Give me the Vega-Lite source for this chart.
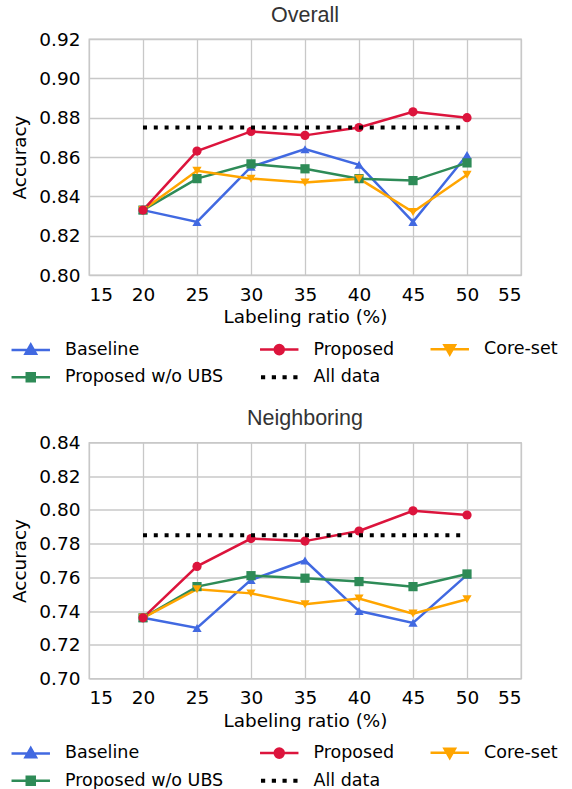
{
  "$schema": "https://vega.github.io/schema/vega-lite/v6.json",
  "padding": {"left": 10, "top": 3, "right": 5, "bottom": 0},
  "background": "white",
  "config": {
    "font": "DejaVu Sans",
    "view": {"stroke": "#c8c8c8", "strokeWidth": 1.3},
    "axis": {
      "grid": true, "gridColor": "#c8c8c8", "gridWidth": 1.3, "domain": false, "ticks": false,
      "labelFont": "DejaVu Sans", "labelFontSize": 18.5, "labelColor": "#000",
      "titleFont": "DejaVu Sans", "titleFontSize": 18.4, "titleFontWeight": "normal", "titleColor": "#000"
    },
    "title": {"font": "Liberation Sans", "fontSize": 21.5, "fontWeight": "normal", "color": "#333", "offset": 4},
    "legend": {
      "orient": "none", "legendX": -67, "legendY": 301.5, "direction": "horizontal", "columns": 3,
      "title": null, "labelFont": "DejaVu Sans", "labelFontSize": 17.5, "labelColor": "#000",
      "symbolSize": 441, "labelOffset": 25.5, "columnPadding": 30.5, "rowPadding": 8, "padding": 0, "labelLimit": 400
    }
  },
  "datasets": {
    "overall": [
      {"ratio": 20, "accuracy": 0.833, "method": "Baseline"},
      {"ratio": 25, "accuracy": 0.827, "method": "Baseline"},
      {"ratio": 30, "accuracy": 0.855, "method": "Baseline"},
      {"ratio": 35, "accuracy": 0.864, "method": "Baseline"},
      {"ratio": 40, "accuracy": 0.856, "method": "Baseline"},
      {"ratio": 45, "accuracy": 0.827, "method": "Baseline"},
      {"ratio": 50, "accuracy": 0.861, "method": "Baseline"},
      {"ratio": 20, "accuracy": 0.833, "method": "Proposed w/o UBS"},
      {"ratio": 25, "accuracy": 0.849, "method": "Proposed w/o UBS"},
      {"ratio": 30, "accuracy": 0.8565, "method": "Proposed w/o UBS"},
      {"ratio": 35, "accuracy": 0.854, "method": "Proposed w/o UBS"},
      {"ratio": 40, "accuracy": 0.849, "method": "Proposed w/o UBS"},
      {"ratio": 45, "accuracy": 0.848, "method": "Proposed w/o UBS"},
      {"ratio": 50, "accuracy": 0.857, "method": "Proposed w/o UBS"},
      {"ratio": 20, "accuracy": 0.833, "method": "Core-set"},
      {"ratio": 25, "accuracy": 0.853, "method": "Core-set"},
      {"ratio": 30, "accuracy": 0.849, "method": "Core-set"},
      {"ratio": 35, "accuracy": 0.847, "method": "Core-set"},
      {"ratio": 40, "accuracy": 0.849, "method": "Core-set"},
      {"ratio": 45, "accuracy": 0.832, "method": "Core-set"},
      {"ratio": 50, "accuracy": 0.851, "method": "Core-set"},
      {"ratio": 20, "accuracy": 0.833, "method": "Proposed"},
      {"ratio": 25, "accuracy": 0.863, "method": "Proposed"},
      {"ratio": 30, "accuracy": 0.873, "method": "Proposed"},
      {"ratio": 35, "accuracy": 0.871, "method": "Proposed"},
      {"ratio": 40, "accuracy": 0.875, "method": "Proposed"},
      {"ratio": 45, "accuracy": 0.883, "method": "Proposed"},
      {"ratio": 50, "accuracy": 0.880, "method": "Proposed"},
      {"ratio": 20, "accuracy": 0.875, "method": "All data"},
      {"ratio": 50, "accuracy": 0.875, "method": "All data"}
    ],
    "neighboring": [
      {"ratio": 20, "accuracy": 0.736, "method": "Baseline"},
      {"ratio": 25, "accuracy": 0.730, "method": "Baseline"},
      {"ratio": 30, "accuracy": 0.7585, "method": "Baseline"},
      {"ratio": 35, "accuracy": 0.770, "method": "Baseline"},
      {"ratio": 40, "accuracy": 0.740, "method": "Baseline"},
      {"ratio": 45, "accuracy": 0.733, "method": "Baseline"},
      {"ratio": 50, "accuracy": 0.7615, "method": "Baseline"},
      {"ratio": 20, "accuracy": 0.736, "method": "Proposed w/o UBS"},
      {"ratio": 25, "accuracy": 0.7545, "method": "Proposed w/o UBS"},
      {"ratio": 30, "accuracy": 0.761, "method": "Proposed w/o UBS"},
      {"ratio": 35, "accuracy": 0.7595, "method": "Proposed w/o UBS"},
      {"ratio": 40, "accuracy": 0.7575, "method": "Proposed w/o UBS"},
      {"ratio": 45, "accuracy": 0.7545, "method": "Proposed w/o UBS"},
      {"ratio": 50, "accuracy": 0.762, "method": "Proposed w/o UBS"},
      {"ratio": 20, "accuracy": 0.736, "method": "Core-set"},
      {"ratio": 25, "accuracy": 0.753, "method": "Core-set"},
      {"ratio": 30, "accuracy": 0.7505, "method": "Core-set"},
      {"ratio": 35, "accuracy": 0.744, "method": "Core-set"},
      {"ratio": 40, "accuracy": 0.7475, "method": "Core-set"},
      {"ratio": 45, "accuracy": 0.7385, "method": "Core-set"},
      {"ratio": 50, "accuracy": 0.747, "method": "Core-set"},
      {"ratio": 20, "accuracy": 0.736, "method": "Proposed"},
      {"ratio": 25, "accuracy": 0.7665, "method": "Proposed"},
      {"ratio": 30, "accuracy": 0.783, "method": "Proposed"},
      {"ratio": 35, "accuracy": 0.7815, "method": "Proposed"},
      {"ratio": 40, "accuracy": 0.7875, "method": "Proposed"},
      {"ratio": 45, "accuracy": 0.7995, "method": "Proposed"},
      {"ratio": 50, "accuracy": 0.797, "method": "Proposed"},
      {"ratio": 20, "accuracy": 0.785, "method": "All data"},
      {"ratio": 50, "accuracy": 0.785, "method": "All data"}
    ]
  },
  "resolve": {"scale": {"color": "independent", "shape": "independent", "strokeDash": "independent"}, "legend": {"color": "independent"}},
  "spacing": 18.5,
  "vconcat": [
    {
      "title": "Overall",
      "width": 432, "height": 236,
      "data": {"name": "overall"},
      "encoding": {
        "x": {"field": "ratio", "type": "quantitative", "title": "Labeling ratio (%)",
              "scale": {"domain": [15, 55], "nice": false, "zero": false},
              "axis": {"values": [15, 20, 25, 30, 35, 40, 45, 50, 55], "labelPadding": 10, "titlePadding": 4}},
        "y": {"field": "accuracy", "type": "quantitative", "title": "Accuracy",
              "scale": {"domain": [0.80, 0.92], "nice": false, "zero": false},
              "axis": {"values": [0.80, 0.82, 0.84, 0.86, 0.88, 0.90, 0.92], "format": ".2f", "labelPadding": 9, "titlePadding": 9}},
        "color": {"field": "method", "type": "nominal",
          "scale": {"domain": ["Baseline", "Proposed", "Core-set", "Proposed w/o UBS", "All data"],
                    "range": ["#4169e1", "#dc143c", "#ffa500", "#2e8b57", "#000000"]},
          "legend": {
            "encode": {"symbols": {"update": {
              "shape": {"signal": "datum.value === 'Baseline' ? 'M-1.83,0H1.83M0,-0.5L0.5,0.38L-0.5,0.38Z' : datum.value === 'Proposed' ? 'M-1.83,0H1.83M0.43,0A0.43,0.43,0,1,1,-0.43,0A0.43,0.43,0,1,1,0.43,0Z' : datum.value === 'Core-set' ? 'M-1.83,0H1.83M0,0.5L0.5,-0.38L-0.5,-0.38Z' : datum.value === 'Proposed w/o UBS' ? 'M-1.83,0H1.83M-0.38,-0.38H0.38V0.38H-0.38Z' : 'M-1.74,-0.2h0.4v0.4h-0.4ZM-0.71,-0.2h0.4v0.4h-0.4ZM0.31,-0.2h0.4v0.4h-0.4ZM1.34,-0.2h0.4v0.4h-0.4Z'"},
              "fill": {"signal": "datum.value === 'Baseline' ? '#4169e1' : datum.value === 'Proposed' ? '#dc143c' : datum.value === 'Core-set' ? '#ffa500' : datum.value === 'Proposed w/o UBS' ? '#2e8b57' : '#000000'"},
              "stroke": {"signal": "datum.value === 'Baseline' ? '#4169e1' : datum.value === 'Proposed' ? '#dc143c' : datum.value === 'Core-set' ? '#ffa500' : datum.value === 'Proposed w/o UBS' ? '#2e8b57' : '#000000'"},
              "strokeWidth": {"signal": "datum.value === 'All data' ? 0 : 2.5"},
              "strokeDash": {"value": []},
              "opacity": {"value": 1},
              "fillOpacity": {"value": 1}
            }}}
          }}
      },
      "layer": [
        {"transform": [{"filter": "datum.method !== 'All data'"}],
         "mark": {"type": "line", "strokeWidth": 2.5}},
        {"transform": [{"filter": "datum.method !== 'All data'"}],
         "mark": {"type": "point", "filled": true, "opacity": 1, "size": 85},
         "encoding": {"shape": {"field": "method", "type": "nominal", "legend": null,
           "scale": {"domain": ["Baseline", "Proposed", "Core-set", "Proposed w/o UBS"],
                     "range": ["triangle-up", "circle", "triangle-down", "square"]}}}},
        {"transform": [{"filter": "datum.method === 'All data'"}],
         "mark": {"type": "line", "strokeWidth": 4, "strokeDash": [4, 6.8], "strokeCap": "butt"}}
      ]
    },
    {
      "title": "Neighboring",
      "width": 432, "height": 236,
      "data": {"name": "neighboring"},
      "encoding": {
        "x": {"field": "ratio", "type": "quantitative", "title": "Labeling ratio (%)",
              "scale": {"domain": [15, 55], "nice": false, "zero": false},
              "axis": {"values": [15, 20, 25, 30, 35, 40, 45, 50, 55], "labelPadding": 10, "titlePadding": 4}},
        "y": {"field": "accuracy", "type": "quantitative", "title": "Accuracy",
              "scale": {"domain": [0.70, 0.84], "nice": false, "zero": false},
              "axis": {"values": [0.70, 0.72, 0.74, 0.76, 0.78, 0.80, 0.82, 0.84], "format": ".2f", "labelPadding": 9, "titlePadding": 9}},
        "color": {"field": "method", "type": "nominal",
          "scale": {"domain": ["Baseline", "Proposed", "Core-set", "Proposed w/o UBS", "All data"],
                    "range": ["#4169e1", "#dc143c", "#ffa500", "#2e8b57", "#000000"]},
          "legend": {
            "encode": {"symbols": {"update": {
              "shape": {"signal": "datum.value === 'Baseline' ? 'M-1.83,0H1.83M0,-0.5L0.5,0.38L-0.5,0.38Z' : datum.value === 'Proposed' ? 'M-1.83,0H1.83M0.43,0A0.43,0.43,0,1,1,-0.43,0A0.43,0.43,0,1,1,0.43,0Z' : datum.value === 'Core-set' ? 'M-1.83,0H1.83M0,0.5L0.5,-0.38L-0.5,-0.38Z' : datum.value === 'Proposed w/o UBS' ? 'M-1.83,0H1.83M-0.38,-0.38H0.38V0.38H-0.38Z' : 'M-1.74,-0.2h0.4v0.4h-0.4ZM-0.71,-0.2h0.4v0.4h-0.4ZM0.31,-0.2h0.4v0.4h-0.4ZM1.34,-0.2h0.4v0.4h-0.4Z'"},
              "fill": {"signal": "datum.value === 'Baseline' ? '#4169e1' : datum.value === 'Proposed' ? '#dc143c' : datum.value === 'Core-set' ? '#ffa500' : datum.value === 'Proposed w/o UBS' ? '#2e8b57' : '#000000'"},
              "stroke": {"signal": "datum.value === 'Baseline' ? '#4169e1' : datum.value === 'Proposed' ? '#dc143c' : datum.value === 'Core-set' ? '#ffa500' : datum.value === 'Proposed w/o UBS' ? '#2e8b57' : '#000000'"},
              "strokeWidth": {"signal": "datum.value === 'All data' ? 0 : 2.5"},
              "strokeDash": {"value": []},
              "opacity": {"value": 1},
              "fillOpacity": {"value": 1}
            }}}
          }}
      },
      "layer": [
        {"transform": [{"filter": "datum.method !== 'All data'"}],
         "mark": {"type": "line", "strokeWidth": 2.5}},
        {"transform": [{"filter": "datum.method !== 'All data'"}],
         "mark": {"type": "point", "filled": true, "opacity": 1, "size": 85},
         "encoding": {"shape": {"field": "method", "type": "nominal", "legend": null,
           "scale": {"domain": ["Baseline", "Proposed", "Core-set", "Proposed w/o UBS"],
                     "range": ["triangle-up", "circle", "triangle-down", "square"]}}}},
        {"transform": [{"filter": "datum.method === 'All data'"}],
         "mark": {"type": "line", "strokeWidth": 4, "strokeDash": [4, 6.8], "strokeCap": "butt"}}
      ]
    }
  ]
}
